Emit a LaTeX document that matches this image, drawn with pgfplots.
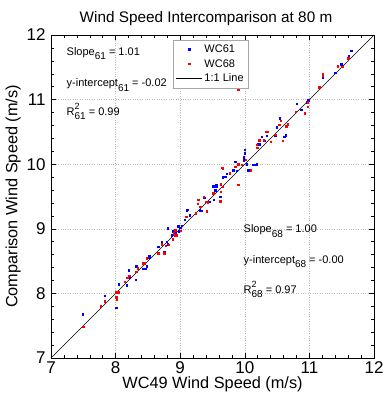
\documentclass[border=0pt]{standalone}
\usepackage{pgfplots}
\pgfplotsset{compat=1.18}
\usepackage{fontspec}
\setmainfont{Liberation Sans}
\newcommand{\sub}[1]{\raisebox{-4.5pt}{\fontsize{10}{10}\selectfont #1}}
\newcommand{\rsq}[1]{R\rlap{\raisebox{5.5pt}{\fontsize{9}{9}\selectfont 2}}\sub{#1}}
\pgfplotsset{
  dotlegend/.style={legend image code/.code={\draw[mark repeat=2,mark phase=2,##1] plot coordinates {(0pt,0pt) (13pt,0pt) (26pt,0pt)};}},
  linelegend/.style={legend image code/.code={\draw[##1] (0pt,0pt) -- (26pt,0pt);}},
}
\pgfplotstableread{
x y
7.49 7.68
7.83 7.96
8.01 7.78
8.05 8.14
8.17 8.13
8.20 8.36
8.22 8.25
8.31 8.21
8.32 8.42
8.43 8.38
8.47 8.38
8.48 8.42
8.52 8.58
8.52 8.56
8.65 8.72
8.66 8.72
8.71 8.79
8.75 8.64
8.79 8.80
8.81 8.76
8.81 9.01
8.87 8.90
8.89 8.96
8.91 8.93
8.93 8.95
8.97 9.04
8.98 8.96
9.00 9.02
9.02 9.05
9.07 9.14
9.10 9.29
9.12 9.30
9.15 9.21
9.30 9.29
9.33 9.28
9.37 9.48
9.46 9.42
9.52 9.45
9.54 9.60
9.56 9.65
9.62 9.50
9.51 9.66
9.56 9.68
9.66 9.80
9.69 9.81
9.70 9.81
9.72 9.85
9.77 9.87
9.82 9.91
9.87 9.90
9.85 10.04
9.98 10.06
9.98 10.11
10.00 10.17
10.00 10.22
10.03 10.00
10.05 9.91
10.13 9.99
10.16 9.99
10.18 10.00
10.21 10.31
10.23 10.31
10.26 10.43
10.30 10.36
10.34 10.44
10.47 10.45
10.49 10.57
10.53 10.61
10.54 10.71
10.61 10.43
10.63 10.45
10.80 10.94
10.87 10.84
10.96 10.96
10.98 10.99
11.21 11.34
11.40 11.42
11.44 11.52
11.49 11.55
11.61 11.68
11.65 11.76
}\wcsixone
\pgfplotstableread{
x y
7.50 7.48
7.77 7.80
7.83 7.88
8.01 8.02
8.01 7.95
8.01 7.93
8.02 7.90
8.05 8.02
8.14 8.18
8.18 8.24
8.21 8.27
8.32 8.34
8.34 8.39
8.43 8.47
8.44 8.47
8.48 8.54
8.48 8.55
8.66 8.62
8.71 8.76
8.74 8.61
8.75 8.62
8.78 8.74
8.82 8.75
8.88 8.84
8.90 8.93
8.92 8.90
8.92 8.98
8.95 8.90
9.01 8.97
9.09 9.19
9.24 9.24
9.27 9.39
9.28 9.45
9.31 9.34
9.36 9.50
9.40 9.42
9.41 9.27
9.43 9.41
9.51 9.55
9.62 9.43
9.63 9.57
9.63 9.69
9.66 9.65
9.66 9.94
9.65 9.95
9.77 9.86
9.85 9.96
9.90 9.68
9.90 10.00
9.95 9.99
10.01 10.07
10.09 9.91
10.18 10.30
10.19 10.26
10.22 10.37
10.29 10.37
10.33 10.50
10.35 10.50
10.40 10.35
10.47 10.46
10.53 10.61
10.56 10.67
10.59 10.36
10.64 10.59
10.66 10.62
10.79 10.81
10.93 10.79
10.97 10.89
10.97 10.96
9.90 11.15
11.15 11.19
11.21 11.38
11.21 11.40
11.44 11.52
11.51 11.51
11.60 11.64
}\wcsixeight
\begin{document}
\begin{tikzpicture}
\begin{axis}[
  scale only axis,
  width=323pt, height=323pt,
  xmin=7, xmax=12, ymin=7, ymax=12,
  xtick={7,8,9,10,11,12}, ytick={7,8,9,10,11,12},
  minor tick num=4,
  tick align=inside,
  major tick length=5pt, minor tick length=3pt,
  tick style={black, line width=0.5pt},
  axis line style={black, line width=0.6pt},
  grid=major,
  major grid style={gray!55, dash pattern=on 0.8pt off 1.6pt, line width=0.5pt},
  ticklabel style={font=\fontsize{17}{17}\selectfont},
  /pgf/number format/assume math mode=true,
  xticklabel style={yshift=-0.5pt},
  yticklabel style={xshift=-2pt},
  xlabel={WC49 Wind Speed (m/s)},
  ylabel={Comparison Wind Speed (m/s)},
  label style={font=\fontsize{16.3}{16.3}\selectfont},
  xlabel style={yshift=4pt},
  ylabel style={yshift=-1pt},
  title={Wind Speed Intercomparison at 80 m},
  title style={font=\fontsize{15.3}{15.3}\selectfont, yshift=0pt, xshift=-6.5pt},
  legend style={at={(rel axis cs:0.378,0.985)}, anchor=north west,
    font=\fontsize{11}{13}\selectfont, draw=gray!70, line width=0.6pt,
    inner sep=2.5pt, row sep=1.5pt},
  legend cell align=left,
  clip=true,
]
\addplot[only marks, mark=square*, mark size=0.7pt, color=blue, dotlegend] table[x=x,y=y] {\wcsixone};
\addlegendentry{WC61}
\addplot[only marks, mark=square*, mark size=0.7pt, color=red, dotlegend] table[x=x,y=y] {\wcsixeight};
\addlegendentry{WC68}
\addplot[black, line width=0.6pt, linelegend] coordinates {(7,7) (12,12)};
\addlegendentry{1:1 Line}
\node[anchor=base west, inner sep=0pt, font=\fontsize{11}{11}\selectfont] at (axis cs:7.24,11.69) {Slope\sub{61} = 1.01};
\node[anchor=base west, inner sep=0pt, font=\fontsize{11}{11}\selectfont] at (axis cs:7.24,11.20) {y-intercept\sub{61} = -0.02};
\node[anchor=base west, inner sep=0pt, font=\fontsize{11}{11}\selectfont] at (axis cs:7.24,10.76) {\rsq{61} = 0.99};
\node[anchor=base west, inner sep=0pt, font=\fontsize{11}{11}\selectfont] at (axis cs:9.98,8.94) {Slope\sub{68} = 1.00};
\node[anchor=base west, inner sep=0pt, font=\fontsize{11}{11}\selectfont] at (axis cs:9.98,8.47) {y-intercept\sub{68} = -0.00};
\node[anchor=base west, inner sep=0pt, font=\fontsize{11}{11}\selectfont] at (axis cs:9.98,8.00) {\rsq{68} = 0.97};
\end{axis}
\pgfresetboundingbox
\path[use as bounding box] ([shift={(-51pt,-37pt)}]current axis.south west) rectangle ([shift={(9pt,35pt)}]current axis.north east);
\end{tikzpicture}
\end{document}
